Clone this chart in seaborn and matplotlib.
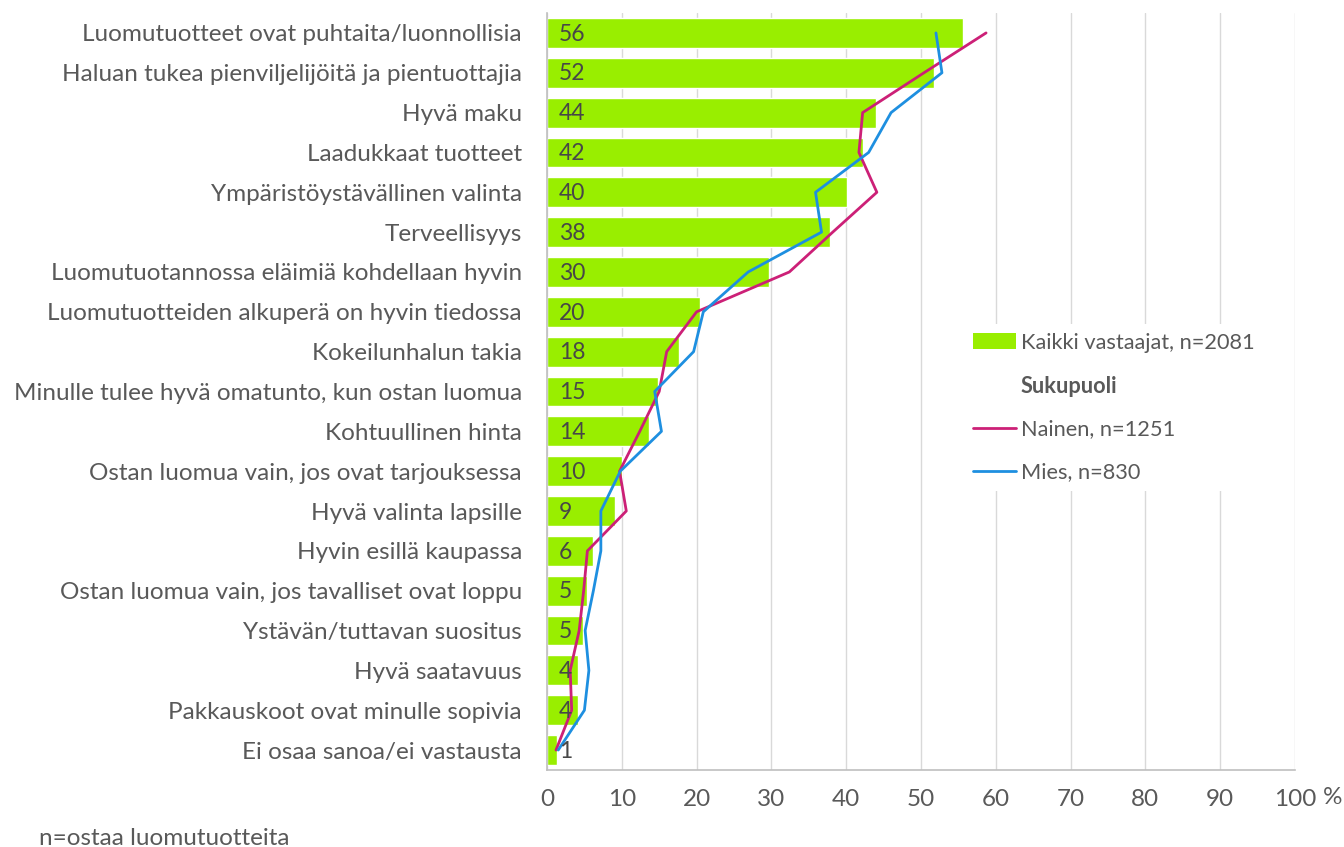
import numpy as np
import pandas as pd
import matplotlib
matplotlib.use("Agg")
import matplotlib.pyplot as plt
from matplotlib.patches import Patch
from matplotlib.lines import Line2D
import seaborn as sns

# ── Data ─────────────────────────────────────────────────────────────────────
categories = [
    "Luomutuotteet ovat puhtaita/luonnollisia",
    "Haluan tukea pienviljelijöitä ja pientuottajia",
    "Hyvä maku",
    "Laadukkaat tuotteet",
    "Ympäristöystävällinen valinta",
    "Terveellisyys",
    "Luomutuotannossa eläimiä kohdellaan hyvin",
    "Luomutuotteiden alkuperä on hyvin tiedossa",
    "Kokeilunhalun takia",
    "Minulle tulee hyvä omatunto, kun ostan luomua",
    "Kohtuullinen hinta",
    "Ostan luomua vain, jos ovat tarjouksessa",
    "Hyvä valinta lapsille",
    "Hyvin esillä kaupassa",
    "Ostan luomua vain, jos tavalliset ovat loppu",
    "Ystävän/tuttavan suositus",
    "Hyvä saatavuus",
    "Pakkauskoot ovat minulle sopivia",
    "Ei osaa sanoa/ei vastausta",
]
kaikki = [55.6, 51.7, 44.0, 42.2, 40.1, 37.9, 29.7, 20.4, 17.6, 14.9,
          13.7, 10.0, 9.1, 6.2, 5.3, 4.8, 4.2, 4.1, 1.4]
nainen = [58.7, 50.4, 42.2, 41.7, 44.1, 38.2, 32.4, 20.0, 16.0, 15.0,
          12.4, 9.7, 10.6, 5.4, 4.9, 4.3, 3.1, 3.3, 1.2]
mies = [52.0, 52.8, 46.0, 43.0, 35.9, 36.7, 26.9, 20.9, 19.6, 14.4,
        15.3, 9.8, 7.2, 7.2, 6.2, 5.1, 5.6, 5.0, 1.5]
x_ticks = [0, 10, 20, 30, 40, 50, 60, 70, 80, 90, 100]

GREEN = "#99EE00"
PINK = "#CC2077"
BLUE = "#1E8FE0"
TXT = "#595959"

df = pd.DataFrame({"kategoria": categories, "kaikki": kaikki,
                   "nainen": nainen, "mies": mies,
                   "pos": np.arange(len(categories))})

# ── Style ────────────────────────────────────────────────────────────────────
sns.set_style("white")
plt.rcParams["font.family"] = ["Lato", "DejaVu Sans"]
plt.rcParams["text.color"] = TXT

fig = plt.figure(figsize=(13.44, 8.47), dpi=100)
ax = fig.add_axes([547 / 1344, 1 - 770 / 847, (1295 - 547) / 1344, (770 - 13) / 847])

ax.set_axisbelow(True)
ax.grid(axis="x", color="#D9D9D9", linewidth=1)

sns.barplot(data=df, y="kategoria", x="kaikki", orient="h", color=GREEN,
            saturation=1, width=0.75, ax=ax, zorder=2)
sns.lineplot(data=df, x="nainen", y="pos", orient="y", sort=False,
             color=PINK, linewidth=2.0, ax=ax, zorder=3)
sns.lineplot(data=df, x="mies", y="pos", orient="y", sort=False,
             color=BLUE, linewidth=2.0, ax=ax, zorder=3)

# value labels inside bars
for i, v in enumerate(kaikki):
    ax.text(1.6, i + 0.03, f"{round(v)}", va="center", ha="left",
            fontsize=16.5, color="#474747", zorder=4)

ax.set_xlim(0, 100)
ax.set_ylim(len(categories) - 0.5, -0.5)
ax.set_xticks(x_ticks)
ax.set_xticklabels([str(t) for t in x_ticks])
ax.set_yticks(range(len(categories)))
ax.set_yticklabels(categories)
ax.set_yticks(np.arange(-0.5, len(categories), 1), minor=True)
ax.tick_params(axis="y", which="major", length=0, pad=18, labelsize=17.5,
               labelcolor=TXT)
ax.tick_params(axis="y", which="minor", length=6, color="#BFBFBF", width=1)
ax.tick_params(axis="x", length=0, pad=14, labelsize=17.5, labelcolor=TXT)
ax.set_xlabel("")
ax.set_ylabel("")

for s in ["top", "right"]:
    ax.spines[s].set_visible(False)
for s in ["left", "bottom"]:
    ax.spines[s].set_color("#BFBFBF")
    ax.spines[s].set_linewidth(1.2)

fig.text(1333 / 1344, 1 - 797 / 847, "%", ha="center", va="center",
         fontsize=17.5, color=TXT)
fig.text(39 / 1344, 1 - 838 / 847, "n=ostaa luomutuotteita", ha="left",
         va="center", fontsize=17.5, color=TXT)

# legend
handles = [Patch(facecolor=GREEN, edgecolor="none"),
           Line2D([], [], color="none"),
           Line2D([], [], color=PINK, linewidth=2.0),
           Line2D([], [], color=BLUE, linewidth=2.0)]
labels = ["Kaikki vastaajat, n=2081", "Sukupuoli",
          "Nainen, n=1251", "Mies, n=830"]
leg = ax.legend(handles, labels, loc="upper left",
                bbox_to_anchor=(953 / 1344, 1 - 313 / 847),
                bbox_transform=fig.transFigure, frameon=True,
                facecolor="white", edgecolor="none", framealpha=1,
                fontsize=15.7, handlelength=2.0, handletextpad=0.2,
                labelspacing=1.05, borderpad=0.4)
for t in leg.get_texts():
    t.set_color(TXT)
leg.get_texts()[1].set_fontweight("bold")
leg.set_zorder(5)

fig.savefig("out.png", dpi=100)
